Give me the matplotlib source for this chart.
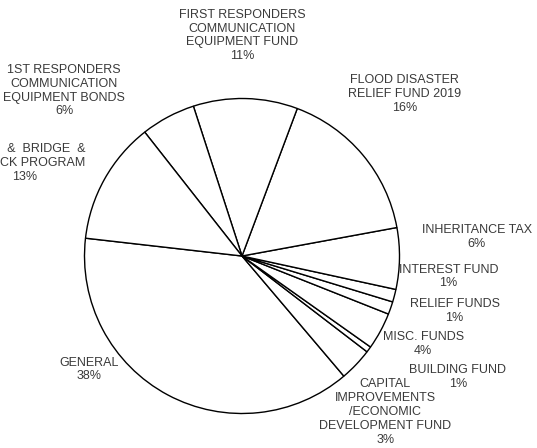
import matplotlib

matplotlib.use('Agg')
import matplotlib.pyplot as plt

# fund shares, counter-clockwise starting from GENERAL
funds = ['GENERAL',
         'CAPITAL\nIMPROVEMENTS\n/ECONOMIC\nDEVELOPMENT FUND',
         'BUILDING FUND',
         'MISC. FUNDS',
         'RELIEF FUNDS',
         'INTEREST FUND',
         'INHERITANCE TAX',
         'FLOOD DISASTER\nRELIEF FUND 2019',
         'FIRST RESPONDERS\nCOMMUNICATION\nEQUIPMENT FUND',
         '1ST RESPONDERS\nCOMMUNICATION\nEQUIPMENT BONDS',
         'ROAD  &  BRIDGE  &\n   TRUCK PROGRAM']
shares = [38.0, 3.4, 0.6, 3.8, 1.3, 1.3, 6.3, 16.4, 10.7, 5.6, 12.6]

# label centres in pie-radius units (layout only)
label_pos = [(-0.97, -0.72), (0.91, -0.99), (1.37, -0.77), (1.15, -0.56),
             (1.35, -0.35), (1.31, -0.13), (1.49, 0.12), (1.03, 1.03),
             (0.0, 1.40), (-1.13, 1.05), (-1.38, 0.59)]

plt.rcParams['font.family'] = ['Liberation Sans', 'DejaVu Sans']

W, H = 537, 448
cx, cy, r = 242, 256, 157.5
fig = plt.figure(figsize=(W / 100, H / 100), dpi=100)
ax = fig.add_axes([(cx - r) / W, (H - cy - r) / H, 2 * r / W, 2 * r / H])
ax.pie(shares, startangle=173.5, counterclock=True,
       colors=['white'] * len(shares),
       wedgeprops=dict(edgecolor='black', linewidth=1.0))
ax.set_xlim(-1, 1)
ax.set_ylim(-1, 1)

total = sum(shares)
for name, val, (x, y) in zip(funds, shares, label_pos):
    ax.text(x, y, '%s\n%.0f%%' % (name, val * 100 / total), ha='center', va='center',
            fontsize=9, color='#3a3a3a', linespacing=1.2)

plt.savefig('out.png', dpi=100)
plt.close()
